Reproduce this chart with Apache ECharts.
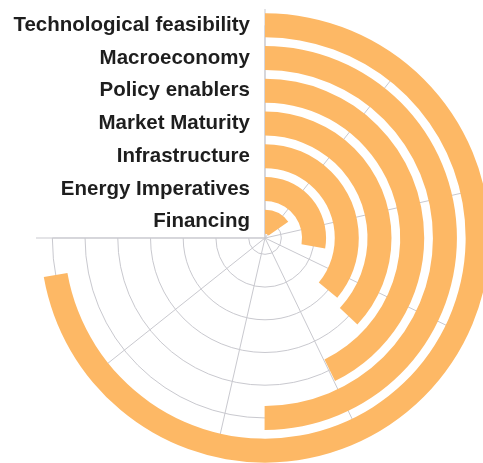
<!DOCTYPE html>
<html>
<head>
<meta charset="utf-8">
<script src="https://cdn.jsdelivr.net/npm/echarts@6/dist/echarts.min.js"></script>
<style>
  html, body { margin: 0; padding: 0; background: #fff; }
  #chart { width: 483px; height: 463px; }
</style>
</head>
<body>
<div id="chart"></div>
<script>
// Drivers, listed from the innermost ring outwards
const categories = [
  'Financing',
  'Energy Imperatives',
  'Infrastructure',
  'Market Maturity',
  'Policy enablers',
  'Macroeconomy',
  'Technological feasibility'
];
const scores = [14.3, 25.9, 33.6, 34.5, 39.9, 46.7, 67.4];
const scoreMax = 70;
const scoreStep = 10;

const cx = 265, cy = 238, R = 229;
const band = R / categories.length;
const gridColor = '#c9c9cf';

const hiddenAngle = (polarIndex, extra) => Object.assign({
  polarIndex: polarIndex,
  type: 'value',
  min: 0,
  max: scoreMax,
  startAngle: 90,
  endAngle: -180,
  clockwise: true,
  axisLine: { show: false },
  axisTick: { show: false },
  axisLabel: { show: false },
  splitLine: { show: false },
  z: 0
}, extra || {});

const hiddenRadius = (polarIndex, extra) => Object.assign({
  polarIndex: polarIndex,
  type: 'value',
  axisLine: { show: false },
  axisTick: { show: false },
  axisLabel: { show: false },
  splitLine: { show: false },
  z: 0
}, extra || {});

const chart = echarts.init(document.getElementById('chart'), null, { renderer: 'canvas' });

chart.setOption({
  backgroundColor: '#ffffff',
  animation: false,
  polar: [
    { center: [cx, cy], radius: R },                       // bars + outer baseline
    { center: [cx, cy], radius: [band / 2, R - band / 2] },  // ring guides
    { center: [cx, cy], radius: R - band / 2 }              // spokes
  ],
  angleAxis: [
    // start (12 o'clock) and end (9 o'clock) lines reaching the full radius
    hiddenAngle(0, {
      interval: scoreMax,
      splitLine: { show: true, lineStyle: { color: gridColor, width: 1 } }
    }),
    hiddenAngle(1),
    hiddenAngle(2, {
      interval: scoreStep,
      splitLine: { show: true, lineStyle: { color: gridColor, width: 1 } }
    })
  ],
  radiusAxis: [
    {
      polarIndex: 0,
      type: 'category',
      data: categories,
      axisLine: { show: false },
      axisTick: { show: false },
      splitLine: { show: false },
      axisLabel: {
        show: true,
        interval: 0,
        margin: 15,
        color: '#1e1e1e',
        fontFamily: 'Liberation Sans, Arial, sans-serif',
        fontWeight: 'bold',
        fontSize: 20.5
      },
      z: 5
    },
    hiddenRadius(1, {
      min: 0,
      max: categories.length - 1,
      interval: 1,
      splitLine: { show: true, lineStyle: { color: gridColor, width: 1 } }
    }),
    hiddenRadius(2, { min: 0, max: 1 })
  ],
  series: [
    {
      type: 'bar',
      coordinateSystem: 'polar',
      polarIndex: 0,
      data: scores,
      barWidth: 24,
      itemStyle: { color: '#fdb865' },
      z: 2
    }
  ]
});
</script>
</body>
</html>
